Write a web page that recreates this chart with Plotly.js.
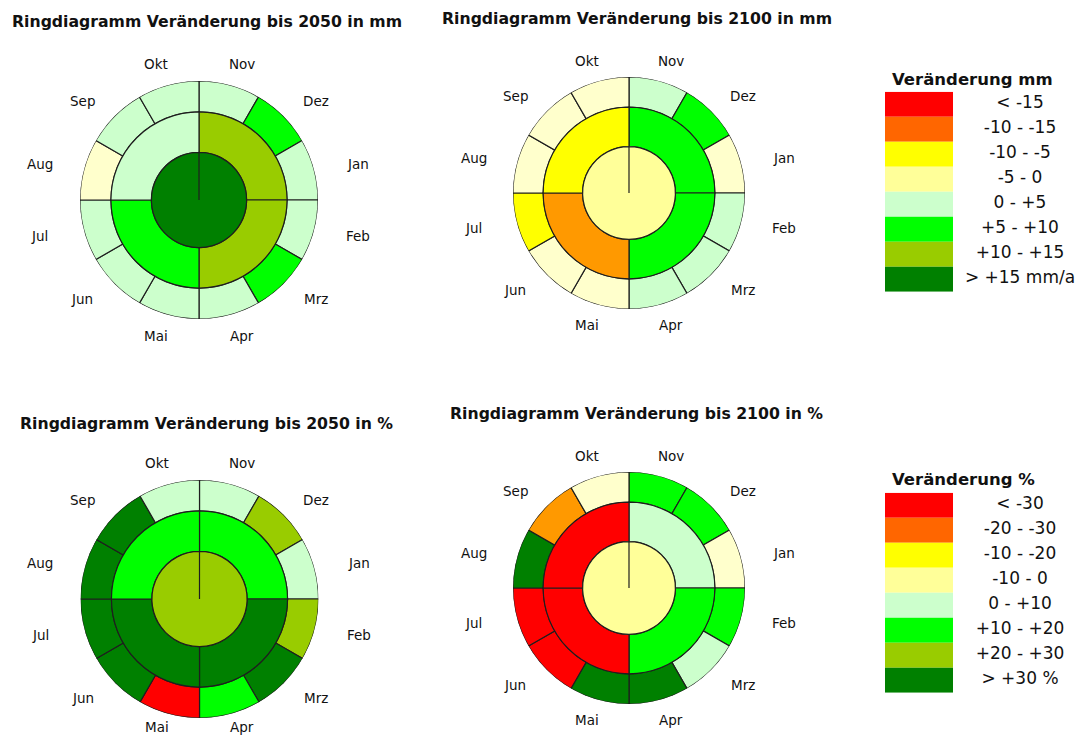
<!DOCTYPE html>
<html>
<head>
<meta charset="utf-8">
<script src="https://cdn.plot.ly/plotly-3.0.1.min.js"></script>
<style>html,body{margin:0;padding:0;background:#fff;}#chart{width:1077px;height:736px;}</style>
</head>
<body>
<div id="chart"></div>
<script>
// ---------- data ----------
const months = ['Nov','Dez','Jan','Feb','Mrz','Apr','Mai','Jun','Jul','Aug','Sep','Okt'];
const quarterNames = ['Nov–Jan','Feb–Apr','Mai–Jul','Aug–Okt'];

// change in mm (estimated from colour classes)
const mm2050Months   = [2, 7, 3, 3, 7, 2, 2, 3, 3, -1, 2, 2];
const mm2050Quarters = [12, 12, 8, 3];
const mm2050Year     = [35];

const mm2100Months   = [3, 7, -2, 3, 2, 2, -3, -3, -7, -2, -3, -2];
const mm2100Quarters = [8, 7, -13, -7];
const mm2100Year     = [-4];

// change in % (estimated from colour classes)
const pct2050Months   = [6, 24, 7, 22, 34, 14, -33, 38, 40, 36, 33, 5];
const pct2050Quarters = [14, 31, 32, 16];
const pct2050Year     = [23];

const pct2100Months   = [15, 14, -4, 12, 6, 35, 32, -38, -42, 31, -24, -6];
const pct2100Quarters = [8, 17, -36, -40];
const pct2100Year     = [-6];

const mmBreaks  = [-15, -10, -5, 0, 5, 10, 15];
const pctBreaks = [-30, -20, -10, 0, 10, 20, 30];

const mmLabels  = ['< -15', '-10 - -15', '-10 - -5', '-5 - 0', '0 - +5', '+5 - +10', '+10 - +15', '> +15 mm/a'];
const pctLabels = ['< -30', '-20 - -30', '-10 - -20', '-10 - 0', '0 - +10', '+10 - +20', '+20 - +30', '> +30 %'];

// ---------- styles ----------
const legendColors = ['#FF0000', '#FF6600', '#FFFF00', '#FFFF99', '#CCFFCC', '#00FF00', '#99CC00', '#008000'];
const ringColors   = ['#FF0000', '#FF9900', '#FFFF00', '#FFFFCC', '#CCFFCC', '#00FF00', '#99CC00', '#008000'];
const diskColors   = ['#FF0000', '#FF9900', '#FFFF00', '#FFFF99', '#CCFFCC', '#00FF00', '#99CC00', '#008000'];

const W = 1077, H = 736;
const R_INNER = 0.40, R_MID = 0.74, R_OUT = 1.0;
const LABEL_A = 1.385, LABEL_B = 1.18;   // label ellipse (relative to outer radius)
const FONT = 'DejaVu Sans, Verdana, sans-serif';
const LINE = {color: '#1e1e1e', width: 1.2};

function cls(v, breaks) { let k = 0; breaks.forEach(b => { if (v > b) k++; }); return k; }

function dom(cx, cy, r) {
  return {x: [(cx - r) / W, (cx + r) / W], y: [1 - (cy + r) / H, 1 - (cy - r) / H]};
}

const charts = [
  {id: 'polar',  title: 'Ringdiagramm Veränderung bis 2050 in mm', m: mm2050Months,  q: mm2050Quarters,  y: mm2050Year,  br: mmBreaks,  c: [199, 200, 119], t: [10, 21.5]},
  {id: 'polar2', title: 'Ringdiagramm Veränderung bis 2100 in mm', m: mm2100Months,  q: mm2100Quarters,  y: mm2100Year,  br: mmBreaks,  c: [629, 193, 116], t: [440, 18.5]},
  {id: 'polar3', title: 'Ringdiagramm Veränderung bis 2050 in %',  m: pct2050Months, q: pct2050Quarters, y: pct2050Year, br: pctBreaks, c: [199.5, 599, 119], t: [18, 423]},
  {id: 'polar4', title: 'Ringdiagramm Veränderung bis 2100 in %',  m: pct2100Months, q: pct2100Quarters, y: pct2100Year, br: pctBreaks, c: [629, 588, 116], t: [448, 413.5]}
];

const traces = [];
const layout = {
  width: W, height: H,
  margin: {l: 0, r: 0, t: 0, b: 0},
  paper_bgcolor: '#ffffff',
  plot_bgcolor: '#ffffff',
  showlegend: false,
  hovermode: false,
  annotations: []
};

const monthTheta = months.map((_, i) => 15 + 30 * i);
const quarterTheta = quarterNames.map((_, i) => 45 + 90 * i);

charts.forEach(ch => {
  traces.push({
    type: 'barpolar', subplot: ch.id, name: 'Monate',
    theta: monthTheta, r: months.map(() => R_OUT - R_MID), base: R_MID, width: 30,
    customdata: ch.m,
    marker: {color: ch.m.map(v => ringColors[cls(v, ch.br)]), line: LINE}
  });
  traces.push({
    type: 'barpolar', subplot: ch.id, name: 'Quartale',
    theta: quarterTheta, r: quarterNames.map(() => R_MID - R_INNER), base: R_INNER, width: 90,
    customdata: ch.q,
    marker: {color: ch.q.map(v => ringColors[cls(v, ch.br)]), line: LINE}
  });
  traces.push({
    type: 'barpolar', subplot: ch.id, name: 'Jahr',
    theta: [180], r: [R_INNER], base: 0, width: 359.99,
    customdata: ch.y,
    marker: {color: ch.y.map(v => diskColors[cls(v, ch.br)]), line: LINE}
  });
  layout[ch.id] = {
    domain: dom(ch.c[0], ch.c[1], ch.c[2]),
    bgcolor: 'rgba(0,0,0,0)',
    radialaxis: {range: [0, 1], visible: false},
    angularaxis: {
      direction: 'clockwise', rotation: 90,
      tickmode: 'array', tickvals: monthTheta, ticktext: months,
      showline: false, showgrid: false, showticklabels: false, ticks: ''
    }
  };
  // month labels around the ring (placed on a label ellipse at each month's centre angle)
  const [cx, cy, r] = ch.c;
  months.forEach((name, i) => {
    const a = monthTheta[i] * Math.PI / 180;
    const px = cx + LABEL_A * r * Math.sin(a);
    const py = Math.min(cy - LABEL_B * r * Math.cos(a), H - 9);
    layout.annotations.push({
      xref: 'paper', yref: 'paper', x: px / W, y: 1 - py / H,
      xanchor: 'center', yanchor: 'middle', showarrow: false,
      text: name, font: {family: FONT, size: 13.5, color: '#111111'}
    });
  });
  layout.annotations.push({
    xref: 'paper', yref: 'paper', x: ch.t[0] / W, y: 1 - ch.t[1] / H,
    xanchor: 'left', yanchor: 'middle', showarrow: false,
    text: '<b>' + ch.title + '</b>',
    font: {family: FONT, size: 15.7, color: '#111111'}
  });
});

// ---------- colour legends as small bar charts ----------
const legends = [
  {xa: 'x',  ya: 'y',  ax: 'xaxis',  ay: 'yaxis',  labels: mmLabels,  title: 'Veränderung mm', top: 91.7,  tt: 79},
  {xa: 'x2', ya: 'y2', ax: 'xaxis2', ay: 'yaxis2', labels: pctLabels, title: 'Veränderung %',  top: 492.7, tt: 479.5}
];
const SW_L = 885, SW_W = 68, ROW_H = 25;
legends.forEach(lg => {
  const idx = lg.labels.map((_, i) => i);
  traces.push({
    type: 'bar', orientation: 'h', xaxis: lg.xa, yaxis: lg.ya,
    y: idx, x: idx.map(() => 1), base: 0, width: 1,
    marker: {color: legendColors, line: {width: 0}}
  });
  traces.push({
    type: 'scatter', mode: 'text', xaxis: lg.xa, yaxis: lg.ya,
    y: idx, x: idx.map(() => (1020 - SW_L) / SW_W),
    text: lg.labels, textposition: 'middle center',
    textfont: {family: FONT, size: 17, color: '#111111'}, cliponaxis: false
  });
  const bottom = lg.top + ROW_H * lg.labels.length;
  layout[lg.ax] = {domain: [SW_L / W, 1], range: [0, (W - SW_L) / SW_W], visible: false, fixedrange: true};
  layout[lg.ay] = {domain: [1 - bottom / H, 1 - lg.top / H], range: [lg.labels.length - 0.5, -0.5], visible: false, fixedrange: true};
  layout.annotations.push({
    xref: 'paper', yref: 'paper', x: 890 / W, y: 1 - lg.tt / H,
    xanchor: 'left', yanchor: 'middle', showarrow: false,
    text: '<b>' + lg.title + '</b>',
    font: {family: FONT, size: 16.5, color: '#111111'}
  });
});
layout.xaxis2.anchor = 'y2';
layout.yaxis2.anchor = 'x2';

Plotly.newPlot('chart', traces, layout, {displayModeBar: false, staticPlot: true});
</script>
</body>
</html>
